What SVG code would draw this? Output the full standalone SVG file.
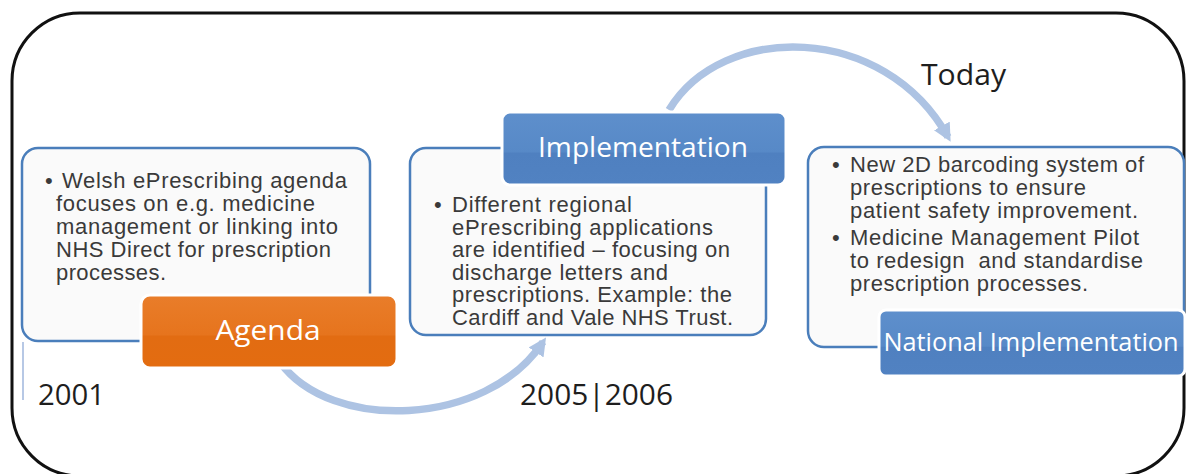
<svg xmlns="http://www.w3.org/2000/svg" width="1186" height="474" viewBox="0 0 1186 474">
  <style>
    .frame { fill: #ffffff; stroke: #111111; stroke-width: 3; }
    .panel { fill: #fafafa; stroke: #4a7ebb; stroke-width: 2.5; }
    .tag { stroke: #ffffff; stroke-width: 3; }
    .tag-label { font-family: "Open Sans", "Liberation Sans", sans-serif; fill: #ffffff; text-anchor: middle; }
    .body { font-family: "Liberation Sans", Arial, sans-serif; font-size: 22px; fill: #3a3a3a; }
    .year { font-family: "Open Sans", "Liberation Sans", sans-serif; font-size: 30px; fill: #1e1e1e; }
    .flow { fill: none; stroke: #adc3e3; stroke-width: 7.5; stroke-linecap: butt; }
  </style>
  <defs>
    <linearGradient id="orangeFill" x1="0" y1="0" x2="0" y2="1">
      <stop offset="0" stop-color="#e97d2a"/>
      <stop offset="0.55" stop-color="#e6741d"/>
      <stop offset="0.56" stop-color="#e26c12"/>
      <stop offset="1" stop-color="#e36c10"/>
    </linearGradient>
    <linearGradient id="blueFill" x1="0" y1="0" x2="0" y2="1">
      <stop offset="0" stop-color="#5e8fcc"/>
      <stop offset="0.55" stop-color="#5789c7"/>
      <stop offset="0.56" stop-color="#4f80c0"/>
      <stop offset="1" stop-color="#5182c2"/>
    </linearGradient>
    <marker id="head" viewBox="0 0 10 10" refX="7" refY="5" markerWidth="18" markerHeight="18" markerUnits="userSpaceOnUse" orient="auto">
      <path d="M0,0 L10,5 L0,10 Z" fill="#adc3e3"/>
    </marker>
  </defs>

  <!-- outer rounded frame -->
  <rect class="frame" x="12" y="13" width="1172" height="463" rx="68" ry="68"/>

  <!-- curved flow arrows between stages -->
  <g id="connectors">
    <path class="flow" d="M280 362 C330 432 486 428 543 342" marker-end="url(#head)"/>
    <path class="flow" d="M669 110 C722 22 884 22 948 137" marker-end="url(#head)"/>
  </g>

  <!-- stage 1: 2001 agenda -->
  <g id="agenda">
    <line x1="23" y1="342" x2="23" y2="400" stroke="#9fb6dc" stroke-width="1.5"/>
    <rect class="panel" x="22" y="148" width="348" height="193" rx="16" ry="16"/>
    <text class="body" x="45" y="188" font-size="14">•</text>
    <text class="body" x="62" y="188" textLength="285" lengthAdjust="spacing">Welsh ePrescribing agenda</text>
    <text class="body" x="56" y="211" textLength="259" lengthAdjust="spacing">focuses on e.g. medicine</text>
    <text class="body" x="56" y="234" textLength="282" lengthAdjust="spacing">management or linking into</text>
    <text class="body" x="56" y="257" textLength="275" lengthAdjust="spacing">NHS Direct for prescription</text>
    <text class="body" x="56" y="280" textLength="110" lengthAdjust="spacing">processes.</text>
    <rect class="tag" x="141" y="295" width="256" height="73" rx="9" ry="9" fill="url(#orangeFill)"/>
    <text class="tag-label" x="268" y="340" font-size="28" textLength="105" lengthAdjust="spacingAndGlyphs">Agenda</text>
    <text class="year" x="38" y="405" textLength="67" lengthAdjust="spacingAndGlyphs">2001</text>
  </g>

  <!-- stage 2: 2005|2006 implementation -->
  <g id="implementation">
    <rect class="panel" x="410" y="148" width="356" height="187" rx="16" ry="16"/>
    <rect class="tag" x="502" y="112" width="284" height="73" rx="8" ry="8" fill="url(#blueFill)"/>
    <text class="tag-label" x="643" y="157" font-size="28" textLength="210" lengthAdjust="spacingAndGlyphs">Implementation</text>
    <text class="body" x="434" y="212">•</text>
    <text class="body" x="452" y="212" textLength="180" lengthAdjust="spacing">Different regional</text>
    <text class="body" x="452" y="234.6" textLength="261" lengthAdjust="spacing">ePrescribing applications</text>
    <text class="body" x="452" y="257.2" textLength="278" lengthAdjust="spacing">are identified – focusing on</text>
    <text class="body" x="452" y="279.8" textLength="216" lengthAdjust="spacing">discharge letters and</text>
    <text class="body" x="452" y="302.4" textLength="280" lengthAdjust="spacing">prescriptions. Example: the</text>
    <text class="body" x="452" y="325" textLength="281" lengthAdjust="spacing">Cardiff and Vale NHS Trust.</text>
    <text class="year" x="520" y="405" textLength="153" lengthAdjust="spacingAndGlyphs">2005|2006</text>
  </g>

  <!-- stage 3: today, national implementation -->
  <g id="national-implementation">
    <text class="year" x="921" y="85" textLength="85" lengthAdjust="spacingAndGlyphs">Today</text>
    <rect class="panel" x="808" y="147" width="376" height="200" rx="16" ry="16"/>
    <text class="body" x="832" y="172">•</text>
    <text class="body" x="850" y="172" textLength="294" lengthAdjust="spacing">New 2D barcoding system of</text>
    <text class="body" x="850" y="195" textLength="236" lengthAdjust="spacing">prescriptions to ensure</text>
    <text class="body" x="850" y="218" textLength="288" lengthAdjust="spacing">patient safety improvement.</text>
    <text class="body" x="832" y="245">•</text>
    <text class="body" x="850" y="245" textLength="289" lengthAdjust="spacing">Medicine Management Pilot</text>
    <text class="body" x="850" y="268" textLength="293" lengthAdjust="spacing">to redesign &#160;and standardise</text>
    <text class="body" x="850" y="291" textLength="238" lengthAdjust="spacing">prescription processes.</text>
    <rect class="tag" x="879" y="310" width="306" height="66" rx="7" ry="7" fill="url(#blueFill)"/>
    <text class="tag-label" x="1031" y="351" font-size="25" textLength="295" lengthAdjust="spacingAndGlyphs">National Implementation</text>
  </g>
</svg>
